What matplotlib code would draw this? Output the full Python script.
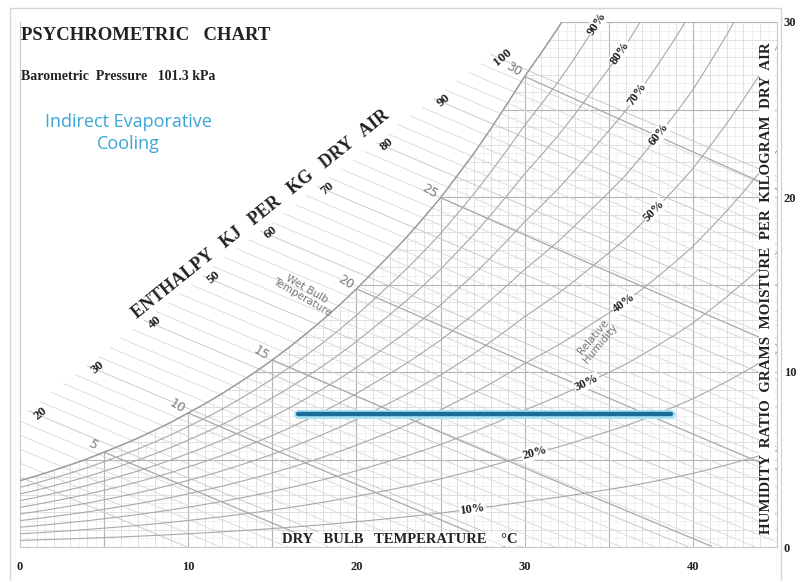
import numpy as np
import matplotlib.pyplot as plt
import matplotlib.patheffects as pe
from matplotlib.patches import Rectangle

# saturation humidity ratio (g/kg dry air) along the 100% curve, per degree C,
# as read off the chart (the drawn curve bends a little right above ~25 C)
t_sat = np.arange(0, 46)
w_sat = np.array([3.79, 4.07, 4.38, 4.70, 5.04, 5.42, 5.81, 6.22, 6.67, 7.14,
                  7.66, 8.19, 8.76, 9.37, 10.01, 10.69, 11.41, 12.18, 12.99, 13.84,
                  14.75, 15.72, 16.71, 17.72, 18.82, 19.96, 21.23, 22.52, 23.92, 25.38,
                  26.89, 28.26, 29.68, 31.24, 32.90, 34.54, 36.23, 38.22, 40.31, 42.49,
                  44.80, 47.50, 50.32, 53.33, 56.51, 59.88])
P = 101.325  # kPa

rh_levels = [10, 20, 30, 40, 50, 60, 70, 80, 90]
rh_label_t = [26.9, 30.6, 33.7, 35.9, 37.7, 38.0, 36.7, 35.7, 34.3]

wb_levels = [5, 10, 15, 20, 25, 30]

h_levels = np.arange(10, 102, 2)
h_labels = [20, 30, 40, 50, 60, 70, 80, 90, 100]
h_label_t = [1.2, 4.6, 8.0, 11.5, 14.9, 18.3, 21.8, 25.2, 28.7]

x_ticks = [0, 10, 20, 30, 40]
y_ticks = [0, 10, 20, 30]

# indirect evaporative cooling process (sensible only)
cool_t = [16.5, 38.7]
cool_w = [7.6, 7.6]


def w_rh(phi, ws):
    ps = P * ws / (622 + ws)
    return 622 * phi * ps / (P - phi * ps)


def w_h(h, t):
    return 1000 * (h - 1.006 * t) / (2501 + 1.86 * t)


def w_wb(twb, t):
    ws = np.interp(twb, t_sat, w_sat) / 1000
    return 1000 * ((2501 - 2.326 * twb) * ws - 1.006 * (t - twb)) / (2501 + 1.86 * t - 4.186 * twb)


serif = 'Liberation Serif'
ink = '#222222'

fig = plt.figure(figsize=(8.01, 5.81), dpi=100)
ax = fig.add_axes([20 / 801, 34 / 581, 757 / 801, 525 / 581])
ax.set_xlim(0, 45)
ax.set_ylim(0, 30)

# outer frame
fig.add_artist(Rectangle((10 / 801, -0.01), 771 / 801, 1.0 - 8 / 581 + 0.01,
                         transform=fig.transFigure, fill=False, ec='#d6d6d6', lw=1))

# fine grid under the saturation curve
for t in np.arange(0.5, 45, 0.5):
    top = min(np.interp(t, t_sat, w_sat), 30)
    if t % 5 == 0:
        c, lw = '#b4b4b4', 0.8
    elif t % 1 == 0:
        c, lw = '#d4d4d4', 0.5
    else:
        c, lw = '#e6e6e6', 0.4
    ax.plot([t, t], [0, top], color=c, lw=lw, zorder=1)
for w in np.arange(0.5, 30.01, 0.5):
    t0 = np.interp(w, w_sat, t_sat)
    if w % 5 == 0:
        c, lw = '#b4b4b4', 0.8
    elif w % 1 == 0:
        c, lw = '#d4d4d4', 0.5
    else:
        c, lw = '#e6e6e6', 0.4
    ax.plot([t0, 45], [w, w], color=c, lw=lw, zorder=1)

# enthalpy lines, starting at the enthalpy scale
slope = (h_label_t[-1] - h_label_t[0]) / (h_labels[-1] - h_labels[0])
t_line = np.linspace(-5, 45, 501)
for h in h_levels:
    t_end = h_label_t[0] + (h - h_labels[0]) * slope - 0.7
    tt = t_line[t_line >= t_end]
    ww = w_h(h, tt)
    keep = ww >= 0
    c = '#c4c4c4' if h % 10 == 0 else '#d8d8d8'
    ax.plot(tt[keep], ww[keep], color=c, lw=0.6, zorder=2)

for h, t in zip(h_labels, h_label_t):
    ax.text(t, w_h(h, t) + 0.15, str(h), rotation=40, ha='center', va='center',
            fontsize=9.5, fontweight='bold', family=serif, color=ink, zorder=6)
ax.text(14.3, 19.0, 'ENTHALPY   KJ   PER   KG   DRY   AIR', rotation=38.6,
        ha='center', va='center', fontsize=13, fontweight='bold', family=serif,
        color=ink, zorder=6)

# wet bulb lines
for twb in wb_levels:
    tt = np.linspace(twb, 45, 200)
    ww = w_wb(twb, tt)
    keep = ww >= 0
    ax.plot(tt[keep], ww[keep], color='#a8a8a8', lw=0.9, zorder=3)
    ax.annotate(str(twb), xy=(twb, np.interp(twb, t_sat, w_sat)), xytext=(-8, 5),
                textcoords='offset points', rotation=-32, ha='center', va='center',
                fontsize=9, color='#7a7a7a', zorder=6)
ax.text(16.9, 14.5, 'Wet Bulb\nTemperature', rotation=-30, ha='center', va='center',
        fontsize=7.5, color='#777777', linespacing=1.0, zorder=6)

# saturation and relative humidity curves
ax.plot(t_sat, w_sat, color='#9a9a9a', lw=1.1, zorder=3)
for phi, tl in zip(rh_levels, rh_label_t):
    ax.plot(t_sat, w_rh(phi / 100, w_sat), color='#a8a8a8', lw=0.8, zorder=3)
    wl = w_rh(phi / 100, np.interp(tl, t_sat, w_sat))
    wl2 = w_rh(phi / 100, np.interp(tl + 0.5, t_sat, w_sat))
    p1 = ax.transData.transform((tl, wl))
    p2 = ax.transData.transform((tl + 0.5, wl2))
    ang = np.degrees(np.arctan2(p2[1] - p1[1], p2[0] - p1[0]))
    ax.text(tl, wl, f'{phi}%', rotation=ang, ha='center', va='center',
            fontsize=9, fontweight='bold', family=serif, color=ink, zorder=6,
            bbox=dict(fc='white', ec='none', pad=0.5))
ax.text(34.3, 11.8, 'Relative\nHumidity', rotation=50, ha='center', va='center',
        fontsize=7.5, color='#777777', linespacing=1.0, zorder=6)

# process line
ax.plot(cool_t, cool_w, color='#1d6d9a', lw=3.2, solid_capstyle='round', zorder=7,
        path_effects=[pe.Stroke(linewidth=6.5, foreground='#a8e4f6'), pe.Normal()])

# axis titles
ax.text(22.6, 0.45, 'DRY   BULB   TEMPERATURE    °C', ha='center', va='center',
        fontsize=10.5, fontweight='bold', family=serif, color=ink, zorder=6,
        bbox=dict(fc='white', ec='none', alpha=0.8, pad=0.5))
ax.text(44.4, 14.8, 'HUMIDITY  RATIO  GRAMS  MOISTURE  PER  KILOGRAM  DRY  AIR',
        rotation=90, ha='center', va='center', fontsize=10.8, fontweight='bold',
        family=serif, color=ink, zorder=6,
        bbox=dict(fc='white', ec='none', pad=1))

# ticks
ax.set_xticks(x_ticks)
ax.set_yticks(y_ticks)
ax.yaxis.tick_right()
ax.tick_params(length=0, labelsize=9, colors=ink)
ax.tick_params(axis='x', pad=10)
ax.tick_params(axis='y', pad=5)
for lab in ax.get_xticklabels() + ax.get_yticklabels():
    lab.set_family(serif)
    lab.set_fontweight('bold')
ax.spines['top'].set_visible(False)
for s in ['left', 'right', 'bottom']:
    ax.spines[s].set_color('#c8c8c8')
    ax.spines[s].set_linewidth(0.8)

# headings
fig.text(21 / 801, 1 - 36 / 581, 'PSYCHROMETRIC   CHART', fontsize=13.5,
         fontweight='bold', family=serif, color=ink, va='center')
fig.text(21 / 801, 1 - 76 / 581, 'Barometric  Pressure   101.3 kPa', fontsize=10,
         fontweight='bold', family=serif, color=ink, va='center')
fig.text(128 / 801, 1 - 133 / 581, 'Indirect Evaporative\nCooling', fontsize=13,
         family='Open Sans', color='#3ba6d6', ha='center', va='center', linespacing=1.25)

fig.savefig('out.png', dpi=100)
